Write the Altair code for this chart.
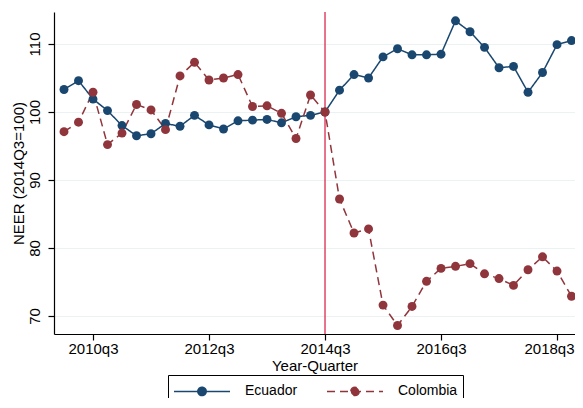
import altair as alt
import pandas as pd

quarters = list(range(36))  # 0 = 2010q1 ... 35 = 2018q4
ecuador = [103.3, 104.6, 101.9, 100.2, 98.0, 96.5, 96.8, 98.3, 97.9, 99.5, 98.1, 97.5,
           98.7, 98.8, 98.9, 98.4, 99.3, 99.5, 100.0, 103.2, 105.5, 105.0, 108.1, 109.3,
           108.4, 108.4, 108.5, 113.4, 111.8, 109.5, 106.5, 106.7, 102.9, 105.8, 109.9, 110.5]
colombia = [97.1, 98.5, 102.9, 95.2, 96.9, 101.1, 100.3, 97.4, 105.3, 107.3, 104.7, 105.0,
            105.5, 100.8, 100.9, 99.8, 96.1, 102.5, 100.0, 87.2, 82.2, 82.8, 71.6, 68.6,
            71.4, 75.1, 77.0, 77.3, 77.7, 76.2, 75.5, 74.5, 76.8, 78.7, 76.6, 72.9]
series = ["Ecuador", "Colombia"]
x_ticks = [2, 10, 18, 26, 34]
y_ticks = [70, 80, 90, 100, 110]
event_q = [18]

rows = []
for q, e, c in zip(quarters, ecuador, colombia):
    rows.append({"q": q, "country": "Ecuador", "neer": e})
    rows.append({"q": q, "country": "Colombia", "neer": c})
df = pd.DataFrame(rows)

FONT = "Liberation Sans"
FS = 15
colors = ["#1a476f", "#90353b"]

xscale = alt.Scale(domain=[-0.69, 35.24], nice=False, zero=False)
yscale = alt.Scale(domain=[67.35, 114.7], nice=False, zero=False)

xaxis = alt.Axis(values=x_ticks, title="Year-Quarter",
                 labelExpr="(floor(datum.value/4)+2010) + 'q' + (datum.value%4+1)",
                 labelOffset={"expr": "datum.value == 34 ? -8 : 0"},
                 grid=False, tickSize=6, labelPadding=1, titlePadding=2)
yaxis = alt.Axis(values=y_ticks, title="NEER (2014Q3=100)", grid=True,
                 gridColor="#eaf2f3", gridWidth=1.2, tickSize=6,
                 labelAngle=270, labelAlign="center", labelBaseline="bottom",
                 labelPadding=6, titlePadding=1)

# legend symbol: a line with a dot in its middle, starting at the symbol box's left edge
legend_path = "M-1,0H4.6M2.22,0A0.42,0.42,0,1,1,1.38,0A0.42,0.42,0,1,1,2.22,0Z"

base = alt.Chart(df).encode(
    x=alt.X("q:Q", scale=xscale, axis=xaxis),
    y=alt.Y("neer:Q", scale=yscale, axis=yaxis),
)

lines = base.mark_line(strokeWidth=1.5).encode(
    color=alt.Color("country:N", scale=alt.Scale(domain=series, range=colors),
                    legend=alt.Legend(title=None, orient="none", legendX=114, legendY=363,
                                      direction="horizontal", symbolType=legend_path,
                                      symbolSize=400, symbolStrokeWidth=1.5,
                                      labelFontSize=14, labelFont=FONT, labelColor="#000",
                                      columnPadding=26, labelOffset=50,
                                      strokeColor="#000", padding=5,
                                      fillColor="white")),
    strokeDash=alt.StrokeDash("country:N",
                              scale=alt.Scale(domain=series, range=[[1, 0], [8, 5]]),
                              legend=None),
)

points = base.mark_point(filled=True, size=80, opacity=1).encode(
    color=alt.Color("country:N", scale=alt.Scale(domain=series, range=colors), legend=None),
)

vline = alt.Chart(pd.DataFrame({"q": event_q})).mark_rule(
    color="#dd2a4f", strokeWidth=1.3).encode(x=alt.X("q:Q", scale=xscale))

chart = alt.layer(vline, lines, points).properties(
    width=521, height=322,
    autosize=alt.AutoSizeParams(type="none"),
    padding={"left": 46, "top": 4, "right": 0, "bottom": 64},
).configure_view(stroke=None).configure_axis(
    labelFont=FONT, titleFont=FONT, labelFontSize=FS, titleFontSize=FS,
    labelColor="#000", titleColor="#000", titleFontWeight="normal",
    domainColor="#000", tickColor="#000", domainWidth=1.2, tickWidth=1.2,
)

chart.save("out.html", embed_options={"renderer": "svg", "actions": False})
